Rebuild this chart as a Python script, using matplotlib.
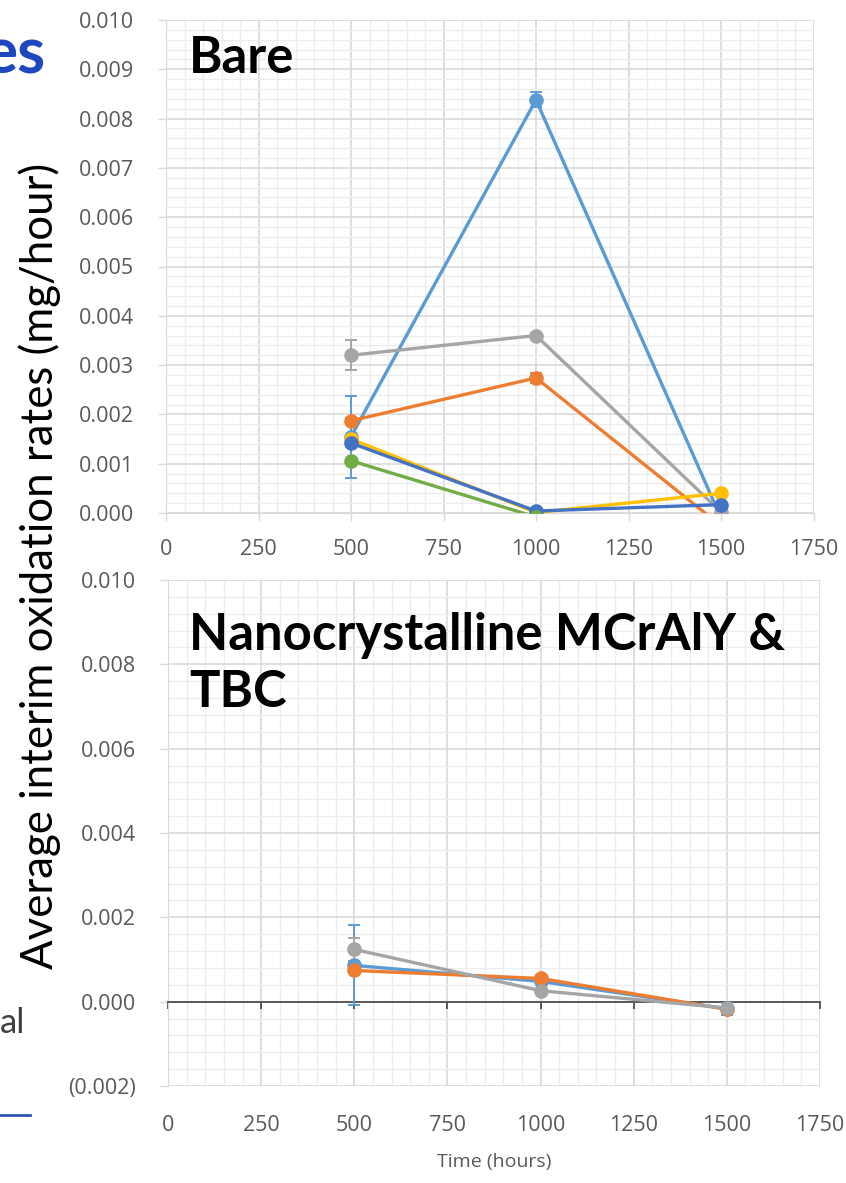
import matplotlib
matplotlib.use("Agg")
import matplotlib.pyplot as plt
from matplotlib.ticker import MultipleLocator, FuncFormatter

# ---------------- data ----------------
time_h = [500, 1000, 1500]

series_colors = ["#5B9BD5", "#ED7D31", "#A5A5A5", "#FFC000", "#4472C4", "#70AD47"]

# Bare (top chart)
bare_s1 = [0.00155, 0.00838, -0.00010]
bare_s2 = [0.00187, 0.00274, -0.00026]
bare_s3 = [0.00320, 0.00360, 0.00002]
bare_s4 = [0.00150, 0.00001, 0.00040]
bare_s5 = [0.00142, 0.00004, 0.00017]
bare_s6 = [0.00106, -0.00008, -0.00020]
bare_e1 = [0.00083, 0.00015, 0.0]
bare_e2 = [0.00005, 0.00010, 0.0]
bare_e3 = [0.00030, 0.00005, 0.0]
bare_e4 = [0.0, 0.0, 0.0]
bare_e5 = [0.0, 0.0, 0.0]
bare_e6 = [0.0, 0.0, 0.0]

# Nanocrystalline MCrAlY & TBC (bottom chart)
nano_s1 = [0.00086, 0.00048, -0.00017]
nano_s2 = [0.00074, 0.00055, -0.00018]
nano_s3 = [0.00124, 0.00026, -0.00015]
nano_e1 = [0.00095, 0.00005, 0.00015]
nano_e2 = [0.00005, 0.00008, 0.00005]
nano_e3 = [0.00028, 0.00005, 0.00005]

top_title = "Bare"
bottom_title_1 = "Nanocrystalline MCrAlY &"
bottom_title_2 = "TBC"
ylabel = "Average interim oxidation rates (mg/hour)"
xlabel = "Time (hours)"

# ---------------- style ----------------
W, H = 846, 1183
fig = plt.figure(figsize=(W / 100, H / 100), dpi=100)
fig.patch.set_facecolor("white")

TICK_SIZE = 15.5
TICK_COLOR = "#595959"
MAJ = "#D9D9D9"
MIN = "#EDEDED"


def frac(x0, y0, x1, y1):
    return [x0 / W, 1 - y1 / H, (x1 - x0) / W, (y1 - y0) / H]


def style_common(ax, ymin, ymax, ymaj, ymin_step):
    ax.set_xlim(0, 1750)
    ax.set_ylim(ymin, ymax)
    ax.xaxis.set_major_locator(MultipleLocator(250))
    ax.xaxis.set_minor_locator(MultipleLocator(50))
    ax.yaxis.set_major_locator(MultipleLocator(ymaj))
    ax.yaxis.set_minor_locator(MultipleLocator(ymin_step))
    ax.grid(which="major", color=MAJ, lw=1.2, zorder=0)
    ax.grid(which="minor", color=MIN, lw=1.0, zorder=0)
    ax.set_axisbelow(True)
    for s in ["top", "right"]:
        ax.spines[s].set_visible(False)
    ax.spines["left"].set_color(MAJ)
    ax.tick_params(which="minor", length=0)
    ax.tick_params(axis="y", which="major", direction="out", length=6,
                   width=1, color=MAJ, pad=17)
    ax.tick_params(axis="both", labelsize=TICK_SIZE, labelcolor=TICK_COLOR)


def draw_series(ax, ys, es, colors):
    for y, e, c in zip(ys, es, colors):
        ax.errorbar(time_h, y, yerr=e, color=c, lw=2.4, marker="o", ms=9.5,
                    capsize=4, elinewidth=1.4, capthick=1.4, zorder=3)


# ---- top chart ----
ax1 = fig.add_axes(frac(166, 20, 813.5, 513))
style_common(ax1, 0, 0.010, 0.001, 0.0002)
ax1.spines["bottom"].set_color(MAJ)
ax1.tick_params(axis="x", which="major", direction="out", length=6, width=1,
                color=MAJ, pad=13)
ax1.yaxis.set_major_formatter(FuncFormatter(lambda v, p: f"{v:.3f}"))
draw_series(ax1,
            [bare_s1, bare_s2, bare_s3, bare_s4, bare_s5, bare_s6],
            [bare_e1, bare_e2, bare_e3, bare_e4, bare_e5, bare_e6],
            series_colors)

# ---- bottom chart ----
ax2 = fig.add_axes(frac(168, 580, 820, 1086))
style_common(ax2, -0.002, 0.010, 0.002, 0.0004)
ax2.spines["bottom"].set_position(("data", 0))
ax2.spines["bottom"].set_color("#595959")
ax2.spines["bottom"].set_linewidth(1.4)
ax2.tick_params(axis="x", which="major", direction="out", length=5, width=1.4,
                color="#595959", labelbottom=False)


def neg_fmt(v, p):
    if v < -1e-12:
        return f"({abs(v):.3f})"
    return f"{v:.3f}"


ax2.yaxis.set_major_formatter(FuncFormatter(neg_fmt))
sec = ax2.secondary_xaxis("bottom")
sec.xaxis.set_major_locator(MultipleLocator(250))
sec.spines["bottom"].set_visible(False)
sec.tick_params(axis="x", length=0, pad=21, labelsize=TICK_SIZE,
                labelcolor=TICK_COLOR)
sec.set_xlabel(xlabel, fontsize=14, color="#595959", family="Open Sans", labelpad=12)
draw_series(ax2, [nano_s1, nano_s2, nano_s3], [nano_e1, nano_e2, nano_e3],
            series_colors[:3])

for ax in (ax1, ax2, sec):
    for lab in ax.get_xticklabels() + ax.get_yticklabels():
        lab.set_fontfamily("Open Sans")

# ---- titles / slide text ----
TITLE_SIZE = 36.5
fig.text(189 / W, 1 - 73 / H, top_title, ha="left", va="baseline",
         fontsize=TITLE_SIZE, weight="bold", family="Lato", color="black")
fig.text(189 / W, 1 - 650 / H, bottom_title_1, ha="left", va="baseline",
         fontsize=TITLE_SIZE, weight="bold", family="Lato", color="black")
fig.text(189 / W, 1 - 707 / H, bottom_title_2, ha="left", va="baseline",
         fontsize=TITLE_SIZE, weight="bold", family="Lato", color="black")

fig.text(40 / W, 1 - 566 / H, ylabel, rotation=90, ha="center", va="center",
         fontsize=31.5, family="Lato", color="black")

# cut-off slide fragments at the left
fig.text(46 / W, 1 - 73 / H, "es", ha="right", va="baseline", fontsize=46,
         weight="bold", family="Lato", color="#1F48C0")
fig.text(25 / W, 1 - 1033 / H, "al", ha="right", va="baseline", fontsize=25,
         family="Lato", color="#404040")
fig.add_artist(plt.Line2D([0, 30 / W], [1 - 1115 / H, 1 - 1115 / H],
                          color="#3155B4", lw=2, transform=fig.transFigure))

fig.savefig("out.png", dpi=100, facecolor="white")
